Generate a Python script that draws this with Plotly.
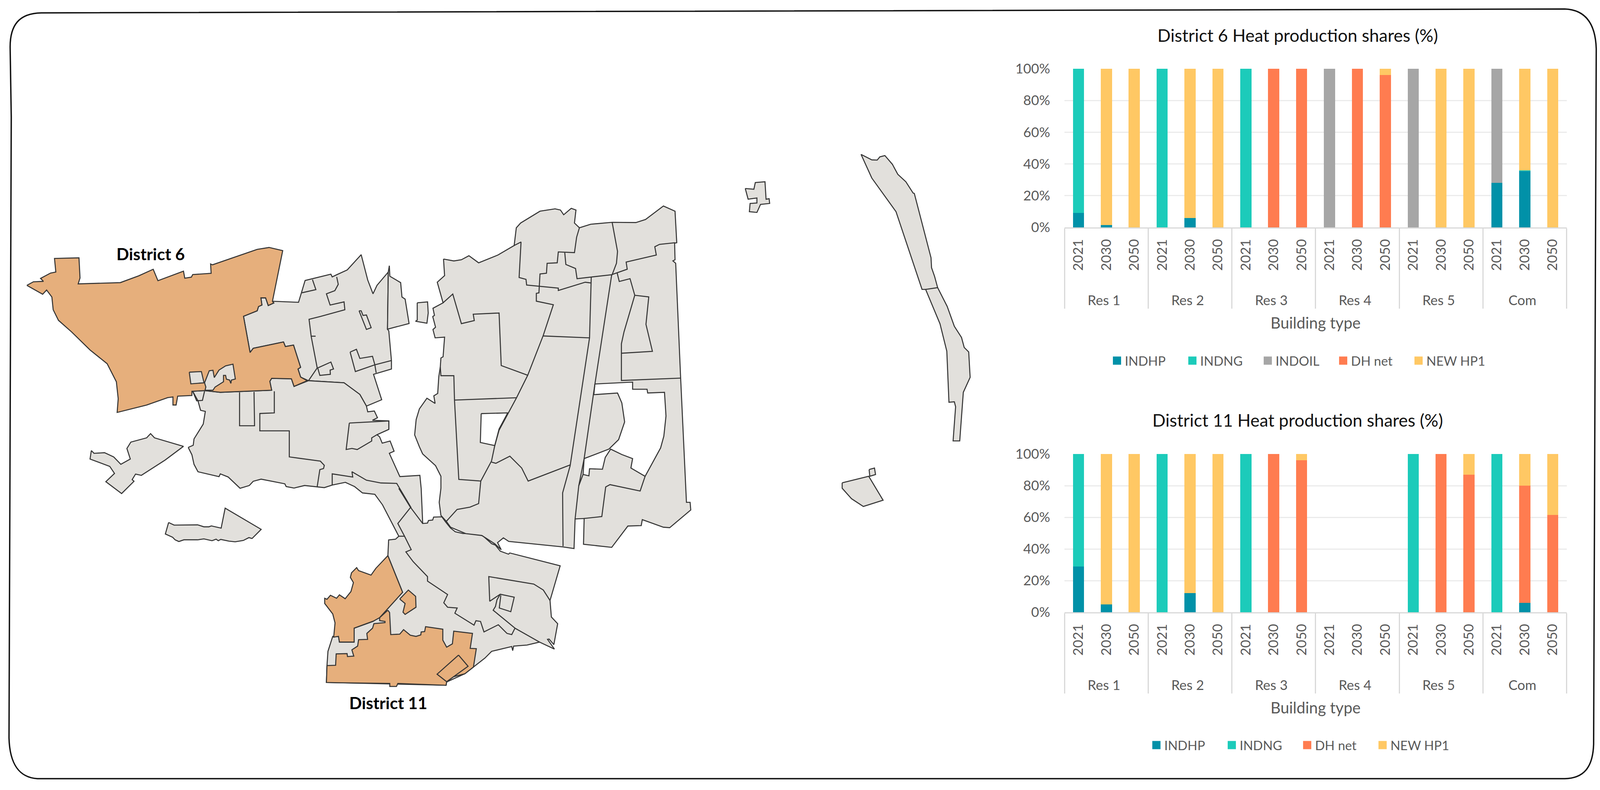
"""District map with the two heat production share charts beside it."""
import plotly.graph_objects as go

W, H = 4264, 2022
FONT = "Lato"

# ---- chart data ----
GROUPS = ["Res 1", "Res 2", "Res 3", "Res 4", "Res 5", "Com"]
PAD = "\u00a0\u00a0\u00a0\u00a0"  # nbsp pushes the group labels down
YEARS = [PAD + "2021", PAD + "2030", PAD + "2050"]
COLOR = {"INDHP": "#0191A8", "INDNG": "#1CCBBA", "INDOIL": "#A6A6A6",
         "DH net": "#FF7C50", "NEW HP1": "#FFC864"}

D6_INDHP = [9, 1.5, 0, 0, 6, 0, 0, 0, 0, 0, 0, 0, 0, 0, 0, 28, 35.5, 0]
D6_INDNG = [91, 0, 0, 100, 0, 0, 100, 0, 0, 0, 0, 0, 0, 0, 0, 0, 0.5, 0]
D6_INDOIL = [0, 0, 0, 0, 0, 0, 0, 0, 0, 100, 0, 0, 100, 0, 0, 72, 0, 0]
D6_DH = [0, 0, 0, 0, 0, 0, 0, 100, 100, 0, 100, 96, 0, 0, 0, 0, 0, 0]
D6_HP1 = [0, 98.5, 100, 0, 94, 100, 0, 0, 0, 0, 0, 4, 0, 100, 100, 0, 64, 100]

D11_INDHP = [29, 5, 0, 0, 12, 0, 0, 0, 0, 0, 0, 0, 0, 0, 0, 0, 6, 0]
D11_INDNG = [71, 0, 0, 100, 0, 0, 100, 0, 0, 0, 0, 0, 100, 0, 0, 100, 0, 0]
D11_DH = [0, 0, 0, 0, 0, 0, 0, 100, 96, 0, 0, 0, 0, 100, 87, 0, 74, 61.5]
D11_HP1 = [0, 95, 100, 0, 88, 100, 0, 0, 4, 0, 0, 0, 0, 0, 13, 0, 20, 38.5]

A = (40, 500, 1100 / 1568, 850 / 1568)
B = (1000, 480, 900 / 1568, 950 / 1568)
C = (800, 1250, 800 / 1568, 600 / 1568)
D = (400, 1260, 1 / 3, 1 / 3)
E = (1900, 360, 750 / 1568, 1000 / 1568)


def px(crop, pts):
    return [(crop[0] + x * crop[2], crop[1] + y * crop[3]) for x, y in pts]


GREY_NW = px(A, [(978, 500), (1077, 505), (1088, 460), (1102, 402), (1200, 372), (1205, 385), (1222, 375), (1262, 352),
                 (1315, 280), (1340, 400), (1360, 465), (1375, 425), (1418, 362), (1415, 632), (1420, 640), (1430, 780),
                 (1430, 820), (1362, 845), (1393, 965), (1335, 995), (1310, 940), (1250, 885), (1115, 875), (1085, 858),
                 (1075, 820), (1085, 812), (1058, 707), (1027, 714), (1020, 692), (905, 722), (893, 742), (868, 571),
                 (920, 545), (925, 525), (938, 518), (934, 484), (952, 484), (962, 520), (983, 508)])
GREY_NW2 = px(A, [(1422, 332), (1424, 382), (1465, 412), (1470, 480), (1482, 490), (1497, 605), (1415, 632), (1418, 362)])
GREY_ISLET = px(B, [(195, 487), (243, 483), (246, 530), (240, 573), (187, 565), (195, 560)])
GREY_SW_ISLAND = px(A, [(290, 1205), (300, 1218), (340, 1215), (375, 1235), (402, 1270), (438, 1245), (425, 1195),
                        (440, 1165), (500, 1145), (515, 1125), (530, 1145), (640, 1185), (570, 1250), (480, 1322),
                        (458, 1316), (445, 1342), (452, 1350), (405, 1408), (345, 1352), (378, 1313), (360, 1280),
                        (285, 1245)])
GREY_S_ISLAND = px(D, [(148, 232), (192, 252), (380, 250), (430, 265), (470, 265), (490, 258), (568, 275), (600, 122),
                       (888, 285), (825, 345), (815, 355), (790, 348), (745, 370), (680, 380), (630, 375), (565, 362),
                       (545, 372), (528, 360), (495, 372), (430, 358), (380, 365), (270, 365), (230, 378), (200, 365),
                       (180, 345), (122, 320)])
GREY_SOUTH = (
    px(A, [(658, 1190), (677, 1180), (680, 1150), (715, 1080), (723, 1020), (705, 1015), (695, 970), (675, 925),
           (720, 922), (780, 930), (975, 920), (968, 878), (975, 864), (1050, 866), (1060, 902), (1115, 875),
           (1250, 885), (1310, 940), (1335, 995), (1340, 1022), (1365, 1018), (1377, 1050), (1358, 1062), (1420, 1065),
           (1420, 1105), (1375, 1130), (1385, 1140), (1395, 1170), (1425, 1160), (1440, 1208), (1422, 1218),
           (1462, 1328), (1538, 1322)])
    + px(C, [(632, 0), (640, 235), (665, 232), (670, 215), (692, 212), (697, 192), (740, 190), (760, 225), (785, 265),
             (810, 290), (850, 302), (920, 302), (955, 318), (1000, 370), (1020, 380), (1045, 420), (1088, 440),
             (1095, 432), (1358, 518), (1305, 750), (1312, 860), (1345, 905), (1325, 1045), (1300, 1008), (1292, 1010),
             (1328, 1075), (1250, 1028), (1185, 1048), (1115, 1055), (1110, 1085), (1105, 1058), (1000, 1090),
             (965, 1135), (905, 1195), (860, 1240), (765, 1295), (762, 1317), (137, 1298), (140, 1185), (145, 1090),
             (170, 990), (200, 990), (205, 1028), (280, 1028), (282, 935), (380, 890), (415, 860), (535, 695),
             (458, 450), (462, 345), (498, 340), (515, 320), (430, 110), (390, 40)])
    + px(A, [(1320, 1405), (1290, 1375), (1255, 1355), (1205, 1368), (1175, 1380), (1100, 1370), (1060, 1382),
             (1030, 1375), (1025, 1362), (935, 1340), (905, 1350), (890, 1370), (855, 1383), (810, 1330), (780, 1315),
             (775, 1328), (695, 1305), (680, 1270), (672, 1225)])
)
GREY_EAST = px(B, [(317, 302), (365, 310), (400, 305), (435, 288), (480, 318), (570, 285), (645, 245), (655, 170),
                   (675, 150), (765, 100), (835, 90), (860, 95), (875, 115), (910, 88), (932, 95), (925, 150),
                   (948, 170), (1000, 155), (1100, 147), (1210, 148), (1255, 135), (1338, 78), (1392, 100), (1400, 233),
                   (1390, 235), (1392, 305), (1382, 310), (1395, 320), (1418, 805), (1445, 1330), (1462, 1330),
                   (1465, 1362), (1367, 1437), (1338, 1435), (1240, 1403), (1235, 1428), (1173, 1430), (1098, 1520),
                   (967, 1507), (970, 1398), (928, 1400), (923, 1525), (870, 1518), (620, 1495), (595, 1480),
                   (568, 1500), (585, 1530), (555, 1505), (495, 1470), (420, 1462), (350, 1435), (330, 1410),
                   (305, 1385), (297, 1330), (305, 1270), (305, 1220), (280, 1175), (220, 1125), (205, 1095),
                   (183, 1045), (190, 980), (205, 935), (240, 890), (278, 912), (272, 880), (290, 870), (295, 800),
                   (302, 758), (305, 720), (315, 715), (322, 632), (278, 635), (268, 600), (280, 590), (267, 545),
                   (275, 540), (268, 510), (315, 487), (288, 400), (322, 372)])
GREY_FAR_ISLET = px(E, [(180, 192), (228, 195), (236, 168), (290, 165), (296, 235), (313, 233), (316, 252), (265, 256),
                        (245, 288), (203, 285), (207, 252), (245, 250), (245, 230), (196, 235)])
GREY_LONG_N = px(E, [(825, 55), (885, 77), (915, 78), (930, 65), (958, 60), (1000, 95), (1030, 135), (1075, 165),
                     (1115, 210), (1122, 212), (1215, 470), (1218, 510), (1235, 545), (1252, 590), (1235, 597),
                     (1165, 597), (1020, 285), (885, 150)])
GREY_LONG_S = px(E, [(1185, 597), (1252, 590), (1305, 665), (1345, 745), (1385, 790), (1400, 830), (1425, 848),
                     (1433, 950), (1395, 1010), (1375, 1205), (1338, 1205), (1352, 1068), (1345, 1048), (1315, 1050),
                     (1303, 845), (1265, 735)])
GREY_SE_ISLE = px(E, [(720, 1373), (868, 1347), (948, 1443), (838, 1468), (772, 1437), (720, 1395)])
GREY_SE_BOX = px(E, [(870, 1320), (900, 1314), (906, 1340), (874, 1347)])
GREY_PARCEL = px(A, [(1270, 1075), (1420, 1065), (1420, 1105), (1375, 1130), (1355, 1145), (1355, 1160), (1300, 1200),
                     (1280, 1195), (1258, 1200)])

HOLE_1 = px(B, [(492, 955), (615, 952), (575, 1020), (555, 1090), (488, 1077)])
HOLE_2 = px(B, [(1020, 830), (1195, 822), (1195, 852), (1262, 852), (1265, 868), (1343, 865), (1350, 965), (1340, 1050),
                (1325, 1100), (1253, 1220), (1187, 1185), (1195, 1145), (1145, 1128), (1093, 1105), (1068, 1140),
                (1055, 1190), (995, 1188), (992, 1218), (965, 1212), (970, 1145), (1085, 1105), (1130, 1065),
                (1158, 990), (1145, 910), (1125, 868), (1015, 875)])

D6_MAIN = px(A, [(45, 425), (70, 408), (108, 406), (97, 392), (135, 367), (155, 362), (150, 298), (243, 295), (247, 390),
                 (240, 418), (400, 412), (470, 380), (525, 349), (543, 403), (640, 358), (645, 391), (670, 386),
                 (675, 374), (745, 368), (743, 324), (750, 328), (920, 255), (965, 246), (1017, 261), (978, 500),
                 (983, 508), (962, 520), (952, 484), (934, 484), (938, 518), (925, 525), (920, 545), (868, 571),
                 (893, 742), (905, 722), (1020, 692), (1027, 714), (1058, 707), (1085, 812), (1075, 820), (1085, 858),
                 (1110, 875), (1060, 902), (1050, 866), (975, 864), (968, 878), (975, 920), (780, 930), (720, 922),
                 (672, 925), (672, 945), (618, 948), (612, 990), (600, 990), (600, 952), (580, 955), (500, 990),
                 (388, 1025), (392, 960), (385, 880), (350, 795), (285, 730), (215, 645), (165, 590), (145, 540),
                 (140, 480), (120, 447), (105, 467)])
D6_GAP_1 = px(A, [(662, 835), (708, 832), (718, 885), (668, 890)])
D6_GAP_2 = px(A, [(720, 885), (738, 828), (752, 826), (757, 860), (775, 825), (800, 805), (828, 797), (837, 867),
                  (822, 872), (820, 888), (815, 872), (803, 868), (800, 850), (792, 850), (792, 880), (760, 905),
                  (752, 920), (722, 920), (725, 905)])
D11_NORTH = px(C, [(458, 450), (535, 695), (415, 865), (382, 888), (282, 935), (282, 1028), (205, 1028), (200, 990),
                   (175, 995), (182, 900), (170, 840), (128, 770), (128, 735), (140, 742), (158, 715), (190, 735),
                   (205, 712), (235, 738), (265, 690), (278, 630), (262, 595), (268, 565), (295, 530), (305, 550),
                   (370, 580), (395, 535)])
D11_SMALL = px(C, [(520, 740), (565, 680), (603, 722), (605, 795), (548, 843), (537, 828), (548, 770)])
D11_SOUTH = px(C, [(458, 815), (467, 830), (473, 978), (520, 975), (540, 945), (575, 982), (605, 990), (630, 980),
                   (632, 960), (650, 958), (655, 925), (745, 942), (745, 1015), (765, 1062), (795, 1040), (802, 955),
                   (900, 970), (888, 1070), (920, 1072), (905, 1195), (860, 1240), (800, 1260), (765, 1295), (762, 1317),
                   (510, 1305), (503, 1325), (468, 1325), (468, 1305), (200, 1300), (137, 1298), (140, 1185),
                   (185, 1183), (188, 1107), (245, 1105), (247, 1125), (280, 1122), (270, 1080), (300, 1055),
                   (305, 1012), (352, 1010), (348, 970), (378, 935), (385, 905), (443, 898), (443, 890), (415, 885),
                   (415, 865)])
D11_BOX = px(C, [(827, 1115), (877, 1190), (765, 1293), (715, 1243)])

# interior boundaries, drawn as open lines
LINES = [
    px(A, [(1090, 460), (1143, 445), (1130, 398)]),
    px(A, [(1222, 385), (1228, 420), (1215, 450), (1183, 465), (1197, 518), (1250, 503), (1253, 540), (1225, 550),
           (1160, 572), (1117, 585), (1125, 665), (1148, 815), (1115, 875)]),
    px(A, [(1125, 665), (1142, 665)]),
    px(A, [(1307, 545), (1315, 545), (1322, 567), (1335, 565), (1353, 625), (1335, 633), (1307, 545)]),
    px(A, [(1273, 740), (1297, 727), (1310, 770), (1358, 760), (1367, 800), (1293, 832), (1273, 740)]),
    px(A, [(1367, 800), (1372, 838)]),
    px(A, [(1367, 800), (1400, 790), (1430, 780)]),
    px(A, [(1150, 815), (1200, 787), (1210, 820), (1197, 825), (1198, 845), (1158, 850), (1150, 815)]),
    px(A, [(853, 930), (853, 1088), (910, 1088), (908, 928)]),
    px(A, [(985, 925), (985, 1027), (930, 1030), (930, 1112), (1042, 1112), (1042, 1235), (1160, 1255), (1175, 1275),
           (1172, 1290), (1158, 1295), (1148, 1375)]),
    px(A, [(675, 925), (690, 970), (712, 968), (720, 925)]),
    px(A, [(1205, 1368), (1205, 1315), (1283, 1330), (1280, 1305), (1335, 1345), (1390, 1358), (1450, 1360),
           (1505, 1475)]),
    px(C, [(515, 0), (575, 125), (640, 235)]),
    px(C, [(575, 130), (510, 235), (545, 320), (580, 410), (552, 425), (590, 490), (665, 590), (665, 620), (770, 710),
           (750, 765), (770, 795), (820, 800), (808, 835), (908, 915), (918, 885), (942, 890), (960, 960), (1035, 912),
           (1080, 970), (1105, 978), (1122, 935), (1250, 1028)]),
    px(C, [(515, 320), (545, 320)]),
    px(C, [(1305, 750), (1270, 680), (1220, 640), (985, 590), (990, 755), (1045, 708), (1118, 728), (1100, 825),
           (1040, 800), (1048, 715)]),
    px(C, [(1045, 708), (1028, 745), (1020, 790), (1008, 815), (1122, 935)]),
    px(B, [(645, 245), (677, 230), (668, 380), (700, 388), (703, 412), (850, 425), (850, 435), (975, 400), (1000, 403)]),
    px(B, [(948, 170), (935, 210), (925, 275), (850, 272), (845, 318), (798, 320), (795, 362), (765, 365), (760, 445),
           (748, 447), (748, 480), (827, 495), (780, 625), (708, 793), (655, 890), (575, 1025), (555, 1090), (540, 1155),
           (490, 1240)]),
    px(B, [(880, 275), (885, 325), (930, 342), (937, 385), (1100, 368), (1120, 320), (1125, 270), (1100, 147)]),
    px(B, [(1003, 378), (995, 635), (905, 1175), (870, 1290), (872, 1515)]),
    px(B, [(1098, 368), (1020, 830), (970, 1145), (945, 1260), (928, 1400)]),
    px(B, [(1098, 368), (1170, 345), (1165, 315), (1305, 285), (1298, 250), (1320, 240), (1392, 233)]),
    px(B, [(1123, 360), (1133, 397), (1183, 385), (1205, 455), (1155, 610), (1143, 660), (1143, 815), (1418, 805)]),
    px(B, [(1205, 455), (1270, 462), (1257, 578), (1287, 692), (1143, 700)]),
    px(B, [(780, 627), (995, 635)]),
    px(B, [(368, 898), (655, 888)]),
    px(B, [(302, 758), (305, 795), (365, 795), (368, 898), (388, 1233), (490, 1240), (480, 1335), (440, 1350),
           (380, 1360), (330, 1410)]),
    px(B, [(315, 487), (360, 450), (400, 575), (460, 562), (455, 535), (575, 530), (585, 752), (708, 793)]),
    px(B, [(540, 1160), (560, 1165), (625, 1135), (680, 1185), (710, 1240), (905, 1172)]),
    px(B, [(965, 1212), (945, 1260)]),
    px(B, [(1253, 1220), (1230, 1282), (1090, 1255), (1070, 1265), (1052, 1390), (970, 1398)]),
]

GREY = "#E2E0DC"
ORANGE = "#E6AF7C"
OUTLINE = "#333333"


def add_poly(fig, pts, fill):
    xs = [p[0] for p in pts] + [pts[0][0]]
    ys = [p[1] for p in pts] + [pts[0][1]]
    fig.add_trace(go.Scatter(x=xs, y=ys, mode="lines", fill="toself", fillcolor=fill, showlegend=False,
                             hoverinfo="skip", line=dict(color=OUTLINE, width=2.6)))


def add_bars(fig, series, xa, ya):
    cats = [[g for g in GROUPS for _ in YEARS], YEARS * len(GROUPS)]
    for name, vals in series:
        fig.add_trace(go.Bar(x=cats, y=vals, name=name, marker=dict(color=COLOR[name], line_width=0), xaxis=xa, yaxis=ya,
                             showlegend=False))


fig = go.Figure()

# ---- map ----
for poly in [GREY_NW, GREY_NW2, GREY_ISLET, GREY_SW_ISLAND, GREY_S_ISLAND, GREY_SOUTH, GREY_EAST, GREY_FAR_ISLET,
             GREY_LONG_N, GREY_LONG_S, GREY_SE_ISLE, GREY_SE_BOX, GREY_PARCEL]:
    add_poly(fig, poly, GREY)
for poly in [HOLE_1, HOLE_2]:
    add_poly(fig, poly, "#FFFFFF")
for line in LINES:
    fig.add_trace(go.Scatter(x=[p[0] for p in line], y=[p[1] for p in line], mode="lines", showlegend=False,
                             hoverinfo="skip", line=dict(color=OUTLINE, width=2.6)))
for poly in [D6_MAIN, D11_NORTH, D11_SOUTH, D11_SMALL, D11_BOX]:
    add_poly(fig, poly, ORANGE)
for poly in [D6_GAP_1, D6_GAP_2]:
    add_poly(fig, poly, GREY)

# ---- stacked bars ----
add_bars(fig, [("INDHP", D6_INDHP), ("INDNG", D6_INDNG), ("INDOIL", D6_INDOIL), ("DH net", D6_DH), ("NEW HP1", D6_HP1)],
         "x2", "y2")
add_bars(fig, [("INDHP", D11_INDHP), ("INDNG", D11_INDNG), ("DH net", D11_DH), ("NEW HP1", D11_HP1)], "x3", "y3")

# legend swatches: bar legend symbols are too small, so use empty square-marker traces
for name in ["INDHP", "INDNG", "INDOIL", "DH net", "NEW HP1"]:
    fig.add_trace(go.Scatter(x=[None], y=[None], mode="markers", name=name, legend="legend",
                             marker=dict(symbol="square", size=16, color=COLOR[name],
                                         line=dict(color=COLOR[name], width=5))))
for name in ["INDHP", "INDNG", "DH net", "NEW HP1"]:
    fig.add_trace(go.Scatter(x=[None], y=[None], mode="markers", name=name, legend="legend2",
                             marker=dict(symbol="square", size=16, color=COLOR[name],
                                         line=dict(color=COLOR[name], width=5))))

TICK = dict(family=FONT, size=35, color="#595959")


def bar_axes(top, bottom):
    xax = dict(type="multicategory", domain=[2837 / W, 4175 / W], range=[-0.5, 17.5], tickfont=TICK, tickangle=-90,
               showline=True, linecolor="#D9D9D9", linewidth=3, showgrid=False, showdividers=True,
               dividercolor="#D9D9D9", dividerwidth=3, ticklabelstandoff=13,
               title=dict(text="Building type", font=dict(TICK, size=40), standoff=26))
    yax = dict(domain=[1 - bottom / H, 1 - top / H], range=[0, 100], tick0=0, dtick=20, ticksuffix="%",
               tickfont=TICK, gridcolor="#EBEBEB", gridwidth=3, zeroline=False, showline=False, ticklabelstandoff=36)
    return xax, yax


x2, y2 = bar_axes(176, 582)
x3, y3 = bar_axes(1162, 1567)
x2["anchor"] = "y2"
y2["anchor"] = "x2"
x3["anchor"] = "y3"
y3["anchor"] = "x3"

LEG = dict(orientation="h", xanchor="left", yanchor="middle", entrywidth=148, entrywidthmode="pixels",
           traceorder="normal", font=dict(family=FONT, size=33, color="#595959"), bgcolor="rgba(0,0,0,0)")

fig.update_layout(
    margin=dict(l=0, r=0, t=0, b=0, autoexpand=False), paper_bgcolor="white", plot_bgcolor="rgba(0,0,0,0)",
    barmode="stack", bargap=0.6, font=dict(family=FONT),
    xaxis=dict(domain=[0, 1], range=[0, W], visible=False),
    yaxis=dict(domain=[0, 1], range=[H, 0], visible=False),
    xaxis2=x2, yaxis2=y2, xaxis3=x3, yaxis3=y3,
    legend=dict(LEG, x=2956 / W, y=1 - 923 / H),
    legend2=dict(LEG, x=3061 / W, y=1 - 1907 / H),
    annotations=[
        dict(text="District 6", x=401, y=649, xref="x", yref="y", showarrow=False,
             font=dict(family=FONT, size=42.5, color="#000000", weight="bold")),
        dict(text="District 11", x=1035, y=1798, xref="x", yref="y", showarrow=False,
             font=dict(family=FONT, size=42.5, color="#000000", weight="bold")),
        dict(text="District 6 Heat production shares (%)", x=3458, y=89, xref="x", yref="y", showarrow=False,
             font=dict(family=FONT, size=44.5, color="#111111")),
        dict(text="District 11 Heat production shares (%)", x=3458, y=1074, xref="x", yref="y", showarrow=False,
             font=dict(family=FONT, size=44.5, color="#111111")),
    ],
    shapes=[dict(type="path", xref="x", yref="y", layer="below", line=dict(color="#111111", width=3.5),
                 path="M 27,120 C 27,65 50,34 110,33 L 4170,23 C 4225,25 4252,60 4254,125 "
                      "L 4247,1905 C 4245,1965 4220,1992 4170,1993 L 100,1993 C 50,1990 26,1955 24,1889 "
                      "L 30,300 Z")],
)

# fill the browser window exactly, with no page margin
FILL_WINDOW = """
document.documentElement.style.height = '100%';
document.body.style.cssText = 'margin:0;height:100%;overflow:hidden';
var gd = document.querySelector('.plotly-graph-div');
gd.parentElement.style.height = '100%';
gd.style.cssText = 'position:fixed;left:0;top:0;width:100vw;height:100vh';
Plotly.Plots.resize(gd);
"""
fig.write_html("out.html", post_script=FILL_WINDOW, config={"displayModeBar": False})
